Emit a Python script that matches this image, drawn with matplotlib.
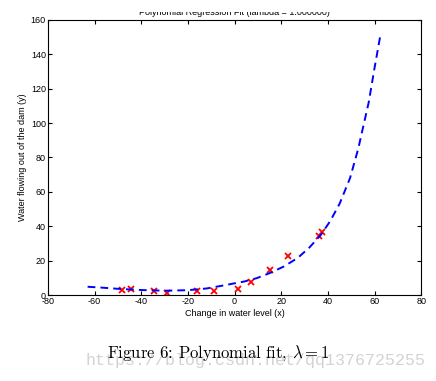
import numpy as np
import matplotlib.pyplot as plt
from matplotlib.transforms import Bbox, TransformedBbox

plt.rcParams['font.family'] = ['Liberation Sans', 'DejaVu Sans']
plt.rcParams['mathtext.fontset'] = 'cm'
plt.rcParams['axes.unicode_minus'] = False

# training data (change in water level vs water flowing out)
x_train = [-15.94, -29.15, 36.19, 37.49, -48.06, -8.94, 15.31, -34.71, 1.39, -44.38, 7.01, 22.76]
y_train = [2.13, 1.17, 34.36, 36.84, 2.81, 2.12, 14.71, 2.61, 3.74, 3.73, 7.63, 22.75]

# fitted polynomial curve
x_fit = [-63, -57, -50, -40, -30, -20, -12, -5, 0, 4, 9.5, 15, 21, 27, 32, 37, 41, 45, 49.5, 53, 57.5, 60, 62.5]
y_fit = [4.8, 4.3, 3.6, 2.9, 2.5, 2.8, 3.8, 5.5, 6.8, 7.8, 9.8, 12.7, 16.5, 21.5, 27.5, 35, 43, 53, 68, 85, 112, 132, 151]

x_ticks = [-80, -60, -40, -20, 0, 20, 40, 60, 80]
y_ticks = [0, 20, 40, 60, 80, 100, 120, 140, 160]

fig = plt.figure(figsize=(4.36, 3.81), dpi=100)
ax = fig.add_axes([0.110, 0.2257, 0.856, 0.722])

ax.plot(x_train, y_train, 'x', color='red', markersize=5, markeredgewidth=1.3)
ax.plot(x_fit, y_fit, '--', color='blue', linewidth=1.4, dashes=(4, 2.6))

ax.set_xlim(-80, 80)
ax.set_ylim(0, 160)
ax.set_xticks(x_ticks)
ax.set_yticks(y_ticks)
ax.tick_params(direction='in', length=3, width=0.8, labelsize=6.5, pad=1.5,
               top=True, right=True)
for s in ax.spines.values():
    s.set_linewidth(0.8)

ax.set_xlabel('Change in water level (x)', fontsize=6.5, labelpad=2)
ax.set_ylabel('Water flowing out of the dam (y)', fontsize=6.5, labelpad=3)

t = ax.set_title('Polynomial Regression Fit (lambda = 1.000000)', fontsize=6.5, pad=3.5)
t.set_clip_box(TransformedBbox(Bbox([[0, 0], [1, (381 - 11.5) / 381]]), fig.transFigure))
t.set_clip_on(True)

fig.text(255 / 436, 1 - 360 / 381, 'https://blog.csdn.net/qq1376725255',
         family='Liberation Mono', fontsize=12, color='#d3d3d3', ha='center', va='center')
fig.text(218 / 436, 1 - 353 / 381, r'Figure 6: Polynomial fit, $\lambda = 1$',
         family='cmr10', fontsize=12, color='black', ha='center', va='center')

fig.savefig('out.png', dpi=100)
